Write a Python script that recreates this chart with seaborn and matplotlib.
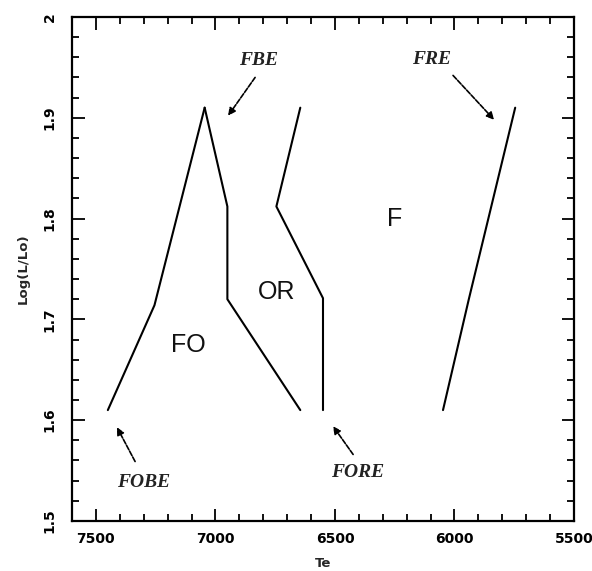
import matplotlib
matplotlib.use("Agg")
import matplotlib.pyplot as plt
from matplotlib.ticker import MultipleLocator
import pandas as pd
import seaborn as sns

# Instability-strip boundaries in the HR diagram (Te, log L/Lo)
fobe_te = [7450, 7255, 7045]
fobe_logl = [1.61, 1.714, 1.91]

fbe_te = [7045, 6950, 6950, 6645]
fbe_logl = [1.91, 1.812, 1.72, 1.61]

fore_te = [6645, 6745, 6550, 6550]
fore_logl = [1.91, 1.812, 1.721, 1.61]

fre_te = [6048, 5940, 5746]
fre_logl = [1.61, 1.72, 1.91]

# Region names inside the strip
region_names = ["F", "OR", "FO"]
region_te = [6250, 6745, 7115]
region_logl = [1.80, 1.727, 1.675]

# Edge names with arrow tail / head positions
edge_names = ["FBE", "FRE", "FOBE", "FORE"]
edge_text_te = [6820, 6095, 7300, 6405]
edge_text_logl = [1.957, 1.958, 1.538, 1.548]
edge_tail_te = [6834, 6006, 7336, 6424]
edge_tail_logl = [1.940, 1.942, 1.559, 1.566]
edge_head_te = [6947, 5834, 7412, 6508]
edge_head_logl = [1.902, 1.898, 1.593, 1.594]

sns.set_style("ticks")
plt.rcParams["font.family"] = ["DejaVu Sans"]

fig = plt.figure(figsize=(5.92, 5.71), dpi=100)
ax = fig.add_axes([0.1216, 0.0876, 0.848, 0.8827])

edges = [(fobe_te, fobe_logl), (fbe_te, fbe_logl),
         (fore_te, fore_logl), (fre_te, fre_logl)]
for te, logl in edges:
    df = pd.DataFrame({"Te": te, "logL": logl})
    sns.lineplot(data=df, x="Te", y="logL", sort=False, estimator=None,
                 color="black", linewidth=1.5, ax=ax)

for name, te, logl in zip(region_names, region_te, region_logl):
    ax.text(te, logl, name, fontsize=18, ha="center", va="center",
            family="Liberation Sans", color="#111111")

for i, name in enumerate(edge_names):
    ax.text(edge_text_te[i], edge_text_logl[i], name, fontsize=14,
            ha="center", va="center", family="Liberation Serif",
            style="italic", weight="bold", color="#222222")
    ax.annotate("", xy=(edge_head_te[i], edge_head_logl[i]),
                xytext=(edge_tail_te[i], edge_tail_logl[i]),
                arrowprops=dict(arrowstyle="-|>", color="black", lw=1.2,
                                linestyle=(0, (3, 1)),
                                mutation_scale=11, shrinkA=0, shrinkB=0))

ax.set_xlim(7600, 5500)
ax.set_ylim(1.5, 2.0)
ax.xaxis.set_minor_locator(MultipleLocator(100))
ax.yaxis.set_minor_locator(MultipleLocator(0.02))
ax.set_xticks([7500, 7000, 6500, 6000, 5500])
ax.set_xticklabels(["7500", "7000", "6500", "6000", "5500"])
ax.set_yticks([1.5, 1.6, 1.7, 1.8, 1.9, 2.0])
ax.set_yticklabels(["1.5", "1.6", "1.7", "1.8", "1.9", "2"],
                   rotation=90, va="center")

ax.tick_params(which="both", direction="in", top=True, right=True,
               width=1.3, labelsize=10, colors="black")
ax.tick_params(which="major", length=9)
ax.tick_params(which="minor", length=5)
for lab in ax.get_xticklabels() + ax.get_yticklabels():
    lab.set_fontweight("bold")
ax.tick_params(axis="x", pad=8)
ax.tick_params(axis="y", pad=11)

for side in ax.spines.values():
    side.set_linewidth(1.6)
    side.set_color("black")

ax.set_xlabel("Te", fontsize=9.5, weight="bold", labelpad=8)
ax.set_ylabel("Log(L/Lo)", fontsize=9.5, weight="bold", labelpad=9)

fig.savefig("out.png", dpi=100, facecolor="white")
